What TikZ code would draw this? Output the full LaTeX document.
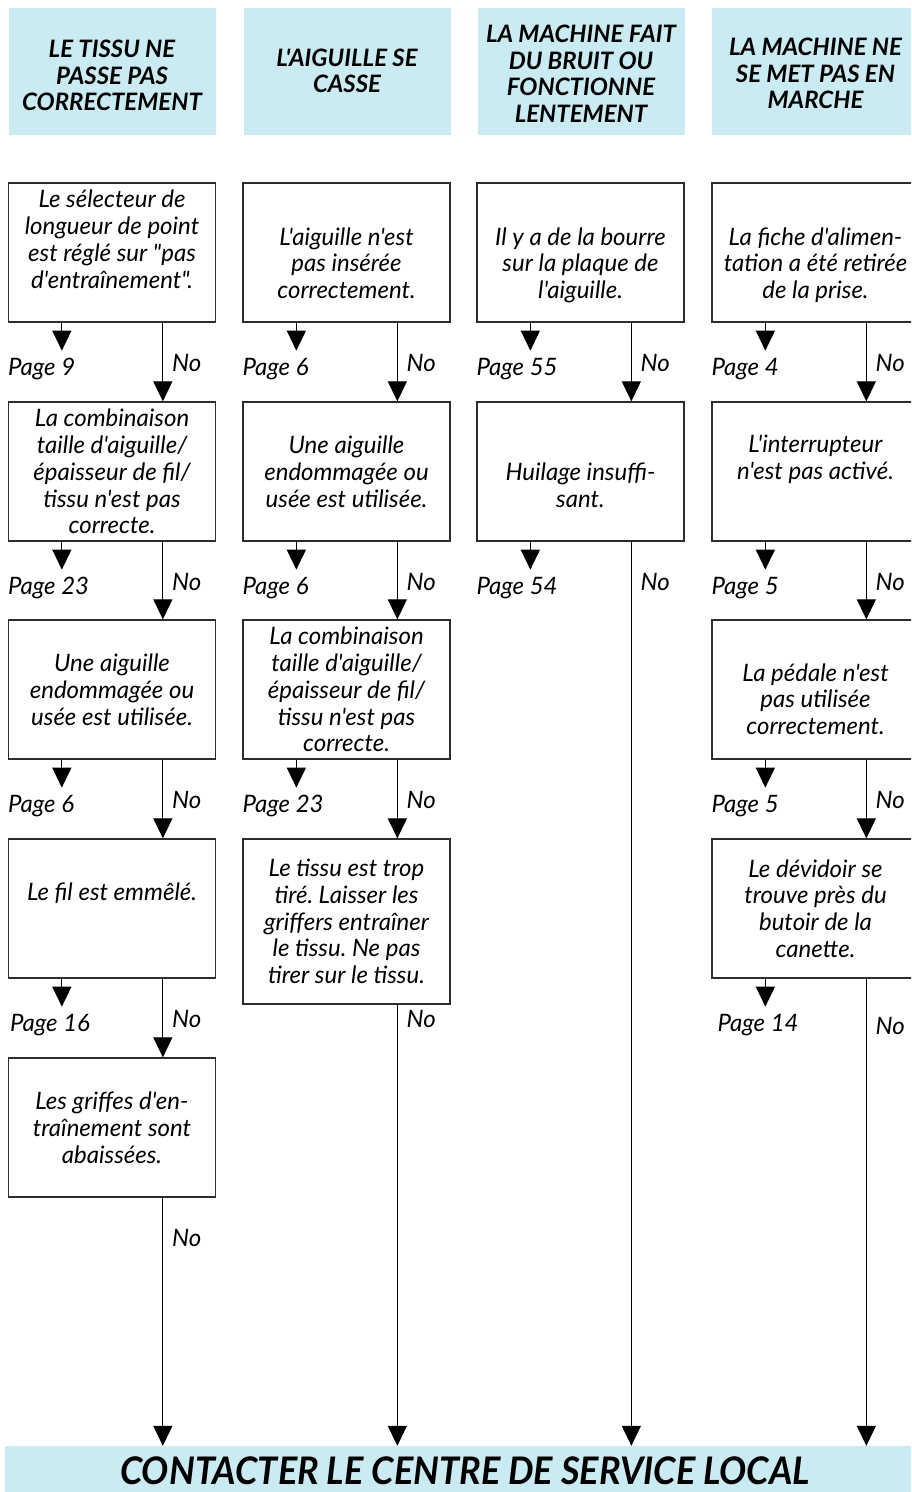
\documentclass[tikz,border=0pt]{standalone}
\usepackage{fontspec}
\setmainfont{Lato}[Ligatures=TeXOff]
\usetikzlibrary{arrows.meta,positioning,calc}
\definecolor{headblue}{RGB}{203,235,242}
\definecolor{boxgray}{RGB}{45,45,45}
\frenchspacing
% move a block of centred lines up (or down) inside its box
\newcommand\lift[2]{\raisebox{#1}[\height][\depth]{\begin{tabular}{@{}c@{}}#2\end{tabular}}}

\begin{document}
\begin{tikzpicture}[x=1pt, y=-1pt,
    every node/.style={font=\fontsize{24}{26.8}\selectfont\itshape},
    head/.style={fill=headblue, minimum width=207pt, minimum height=127pt,
      align=center, inner sep=0pt, font=\fontsize{24}{26.6}\selectfont\bfseries\itshape},
    cause/.style={draw=boxgray, line width=1.3pt, minimum width=207pt, minimum height=139pt,
      align=center, inner sep=0pt},
    arr/.style={line width=1.2pt, -{Triangle[width=19pt,length=20pt]}},
    lbl/.style={anchor=west, inner sep=0pt}]
  \clip (0,0) rectangle (911,1492);

  % column headers
  \node[head] (h1) at (112,71)   {\lift{-8pt}{LE TISSU NE\\PASSE PAS\\CORRECTEMENT}};
  \node[head] (h2) at (347,71)   {L'AIGUILLE SE\\CASSE};
  \node[head] (h3) at (581,71)   {\lift{-6pt}{LA MACHINE FAIT\\DU BRUIT OU\\FONCTIONNE\\LENTEMENT}};
  \node[head] (h4) at (815.5,71) {\lift{-6pt}{LA MACHINE NE\\SE MET PAS EN\\MARCHE}};

  % column 1
  \node[cause] (c1r1) at (112,252.5)  {\lift{10pt}{Le sélecteur de\\longueur de point\\est réglé sur \char34 pas\\d'entraînement\char34 .}};
  \node[cause] (c1r2) at (112,471.5)  {La combinaison\\taille d'aiguille/\\épaisseur de fil/\\tissu n'est pas\\correcte.};
  \node[cause] (c1r3) at (112,689.5)  {Une aiguille\\endommagée ou\\usée est utilisée.};
  \node[cause] (c1r4) at (112,908.5)  {\lift{13pt}{Le fil est emmêlé.}};
  \node[cause] (c1r5) at (112,1127.5) {Les griffes d'en-\\traînement sont\\abaissées.};

  % column 2
  \node[cause] (c2r1) at (346.5,252.5) {\lift{-14pt}{L'aiguille n'est\\pas insérée\\correctement.}};
  \node[cause] (c2r2) at (346.5,471.5) {Une aiguille\\endommagée ou\\usée est utilisée.};
  \node[cause] (c2r3) at (346.5,689.5) {La combinaison\\taille d'aiguille/\\épaisseur de fil/\\tissu n'est pas\\correcte.};
  \node[cause, minimum height=165pt] (c2r4) at (346.5,921.5) {Le tissu est trop\\tiré. Laisser les\\griffers entraîner\\le tissu. Ne pas\\tirer sur le tissu.};

  % column 3
  \node[cause] (c3r1) at (580.5,252.5) {\lift{-14pt}{Il y a de la bourre\\sur la plaque de\\l'aiguille.}};
  \node[cause] (c3r2) at (580.5,471.5) {\lift{-17pt}{Huilage insuffi-\\sant.}};

  % column 4
  \node[cause] (c4r1) at (815.5,252.5) {\lift{-14pt}{La fiche d'alimen-\\tation a été retirée\\de la prise.}};
  \node[cause] (c4r2) at (815.5,471.5) {\lift{11pt}{L'interrupteur\\n'est pas activé.}};
  \node[cause] (c4r3) at (815.5,689.5) {\lift{-13pt}{La pédale n'est\\pas utilisée\\correctement.}};
  \node[cause] (c4r4) at (815.5,908.5) {Le dévidoir se\\trouve près du\\butoir de la\\canette.};

  % service banner
  \node[fill=headblue, minimum width=920pt, minimum height=50pt, inner sep=0pt] (svc) at (465,1471) {};
  \node[inner sep=0pt, font=\fontsize{38}{40}\selectfont\bfseries\itshape] (svctxt) at (465,1471)
    {\scalebox{0.95}[1]{CONTACTER LE CENTRE DE SERVICE LOCAL}};

  % page references
  \foreach \a/\p/\dx in {c1r1/9/0, c1r2/23/0, c1r3/6/0, c1r4/16/2,
                         c2r1/6/0, c2r2/6/0, c2r3/23/0,
                         c3r1/55/0, c3r2/54/0,
                         c4r1/4/0, c4r2/5/0, c4r3/5/0, c4r4/14/6}{
    \coordinate (tip-\a) at ($(\a.south west)+(54,28)$);
    \draw[arr] ($(\a.south west)+(54,0)$) -- (tip-\a);
    \node[lbl] (pg-\a) at ($(\a.south west)+(\dx,46)$) {Page \p};
  }

  % "No" connectors
  \foreach \a/\b in {c1r1/c1r2, c1r2/c1r3, c1r3/c1r4, c1r4/c1r5,
                     c2r1/c2r2, c2r2/c2r3, c2r3/c2r4,
                     c3r1/c3r2, c4r1/c4r2, c4r2/c4r3, c4r3/c4r4}
    \draw[arr] ($(\a.south west)+(155,0)$) -- ($(\b.north west)+(155,0)$);
  \foreach \a in {c1r5, c2r4, c3r2, c4r4}
    \draw[arr] ($(\a.south west)+(155,0)$) coordinate (top-\a) -- (top-\a |- svc.north);
  \foreach \a/\dy in {c1r1/40, c1r2/40, c1r3/40, c1r4/40, c1r5/40,
                      c2r1/40, c2r2/40, c2r3/40, c2r4/14,
                      c3r1/40, c3r2/40, c4r1/40, c4r2/40, c4r3/40, c4r4/47}
    \node[lbl] (no-\a) at ($(\a.south west)+(164,\dy)$) {No};
\end{tikzpicture}
\end{document}
